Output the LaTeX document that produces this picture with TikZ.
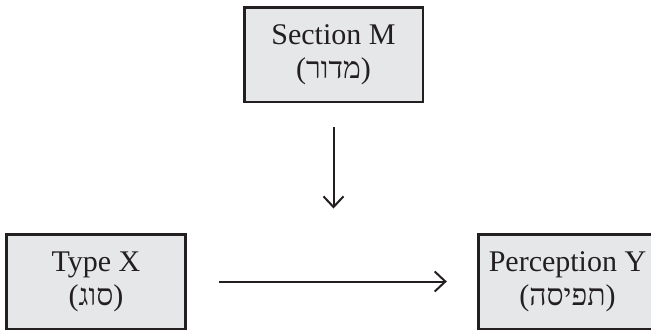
\documentclass[tikz,border=0pt]{standalone}
\usepackage{fontspec}
\setmainfont{Liberation Serif}
\newfontfamily\hebfont[Script=Hebrew]{Liberation Serif}
\TeXXeTstate=1
\usetikzlibrary{arrows.meta}
\definecolor{boxgray}{HTML}{E6E7E8}
\definecolor{ink}{HTML}{231F20}
\tikzset{
  varbox/.style={draw=ink, fill=boxgray, line width=2pt, text=ink, align=center,
    minimum width=134pt, minimum height=71pt, inner sep=0pt,
    font=\fontsize{22.5}{25.5}\selectfont},
  link/.style={draw=ink, line width=1.5pt, -{Straight Barb[length=8pt,width=15pt,line width=1.5pt]}}
}
\begin{document}
\begin{tikzpicture}[x=0.75pt,y=-0.75pt]
\useasboundingbox (0,0) rectangle (651,333);
\clip (0,0) rectangle (651,333);
% the three variables
\node[varbox] (section) at (333.5,54.5) {Section M\\({\hebfont\beginR מדור\endR})};
\node[varbox] (type) at (96,281.5) {Type X\\({\hebfont\beginR סוג\endR})};
\node[varbox] (percep) at (567.5,281.5) {Perception Y\\({\hebfont\beginR תפיסה\endR})};
% effect and moderation
\draw[link, shorten <=24pt, shorten >=22.5pt] (type) -- coordinate[midway] (mid) (percep);
\draw[link, shorten <=18pt, shorten >=54.75pt] (section.south) -- (section.south |- mid);
\end{tikzpicture}
\end{document}
